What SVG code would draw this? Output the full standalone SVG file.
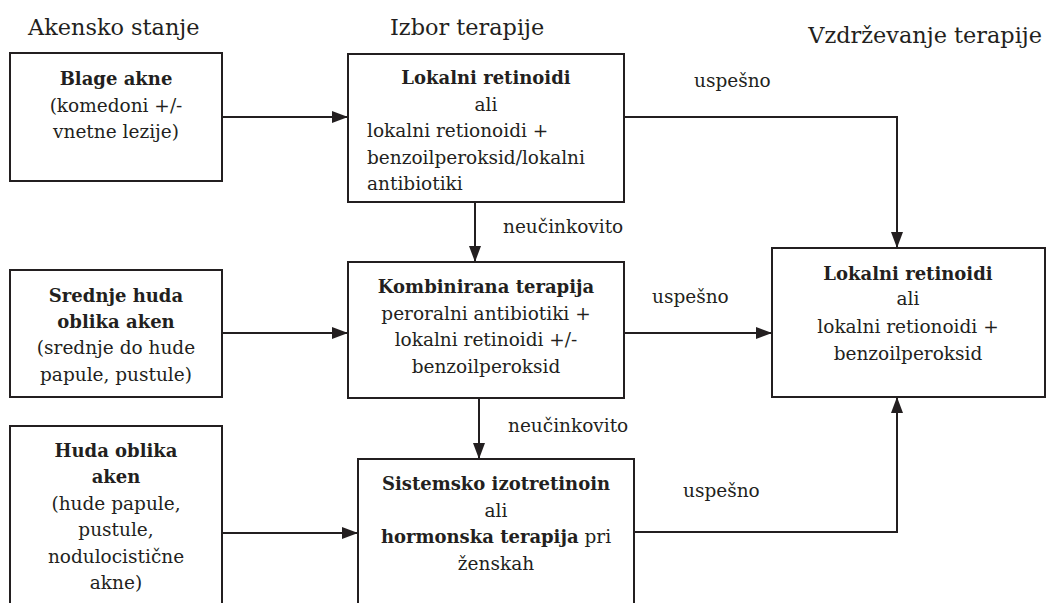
<svg xmlns="http://www.w3.org/2000/svg" width="1046" height="603" viewBox="0 0 1046 603">
<style>
.box{fill:#fff;stroke:#231f20;stroke-width:2}
.t{font-family:'DejaVu Serif',serif;font-size:18.5px;fill:#231f20}
.c{text-anchor:middle}
.b{font-weight:bold;font-size:18px}
.h{font-family:'DejaVu Serif',serif;font-size:22.4px;fill:#231f20}
.ln{fill:none;stroke:#231f20;stroke-width:2}
</style>
<defs>
<marker id="ah" markerUnits="userSpaceOnUse" markerWidth="16" markerHeight="12" refX="16" refY="6" orient="auto">
<path d="M0,0 L16,6 L0,12 Z" fill="#231f20"/>
</marker>
</defs>
<rect width="1046" height="603" fill="#fff"/>
<g id="headers">
<text class="h" x="28" y="35">Akensko stanje</text>
<text class="h" x="390" y="35">Izbor terapije</text>
<text class="h" x="1042" y="43" text-anchor="end">Vzdrževanje terapije</text>
</g>
<g id="connectors">
<line class="ln" x1="222" y1="117" x2="348" y2="117" marker-end="url(#ah)"/>
<line class="ln" x1="222" y1="333" x2="348" y2="333" marker-end="url(#ah)"/>
<line class="ln" x1="222" y1="533" x2="358" y2="533" marker-end="url(#ah)"/>
<line class="ln" x1="475" y1="202" x2="475" y2="262" marker-end="url(#ah)"/>
<line class="ln" x1="479" y1="398" x2="479" y2="459" marker-end="url(#ah)"/>
<line class="ln" x1="624" y1="333" x2="772" y2="333" marker-end="url(#ah)"/>
<polyline class="ln" points="624,117 897,117 897,248" marker-end="url(#ah)"/>
<polyline class="ln" points="634,532 897,532 897,397" marker-end="url(#ah)"/>
<text class="t" x="694" y="87">uspešno</text>
<text class="t" x="652" y="303">uspešno</text>
<text class="t" x="683" y="497">uspešno</text>
<text class="t" x="503" y="233">neučinkovito</text>
<text class="t" x="508" y="432">neučinkovito</text>
</g>
<g id="n-blage">
<rect class="box" x="10" y="53" width="212" height="128"/>
<text class="t c" x="116" y="85"><tspan class="b">Blage akne</tspan><tspan x="116" y="112">(komedoni +/-</tspan><tspan x="116" y="138">vnetne lezije)</tspan></text>
</g>
<g id="n-lokalni">
<rect class="box" x="348" y="54" width="276" height="148"/>
<text class="t c b" x="486" y="84">Lokalni retinoidi</text>
<text class="t c" x="486" y="111">ali</text>
<text class="t" x="367" y="137">lokalni retionoidi +<tspan x="367" y="164">benzoilperoksid/lokalni</tspan><tspan x="367" y="190">antibiotiki</tspan></text>
</g>
<g id="n-srednje">
<rect class="box" x="10" y="270" width="212" height="127"/>
<text class="t c" x="116" y="302"><tspan class="b">Srednje huda</tspan><tspan class="b" x="116" y="328">oblika aken</tspan><tspan x="116" y="354">(srednje do hude</tspan><tspan x="116" y="381">papule, pustule)</tspan></text>
</g>
<g id="n-kombinirana">
<rect class="box" x="348" y="262" width="276" height="136"/>
<text class="t c" x="486" y="293"><tspan class="b">Kombinirana terapija</tspan><tspan x="486" y="320">peroralni antibiotiki +</tspan><tspan x="486" y="346">lokalni retinoidi +/-</tspan><tspan x="486" y="373">benzoilperoksid</tspan></text>
</g>
<g id="n-huda">
<rect class="box" x="10" y="426" width="212" height="200"/>
<text class="t c" x="116" y="457"><tspan class="b">Huda oblika</tspan><tspan class="b" x="116" y="483">aken</tspan><tspan x="116" y="510">(hude papule,</tspan><tspan x="116" y="536">pustule,</tspan><tspan x="116" y="563">nodulocistične</tspan><tspan x="116" y="589">akne)</tspan></text>
</g>
<g id="n-sistemsko">
<rect class="box" x="358" y="459" width="276" height="200"/>
<text class="t c" x="496" y="490"><tspan class="b">Sistemsko izotretinoin</tspan><tspan x="496" y="517">ali</tspan><tspan x="496" y="543"><tspan class="b">hormonska terapija</tspan> pri</tspan><tspan x="496" y="570">ženskah</tspan></text>
</g>
<g id="n-vzdrzevanje">
<rect class="box" x="772" y="248" width="273" height="149"/>
<text class="t c" x="908" y="280"><tspan class="b">Lokalni retinoidi</tspan><tspan x="908" y="305">ali</tspan><tspan x="908" y="333">lokalni retionoidi +</tspan><tspan x="908" y="360">benzoilperoksid</tspan></text>
</g>
</svg>
